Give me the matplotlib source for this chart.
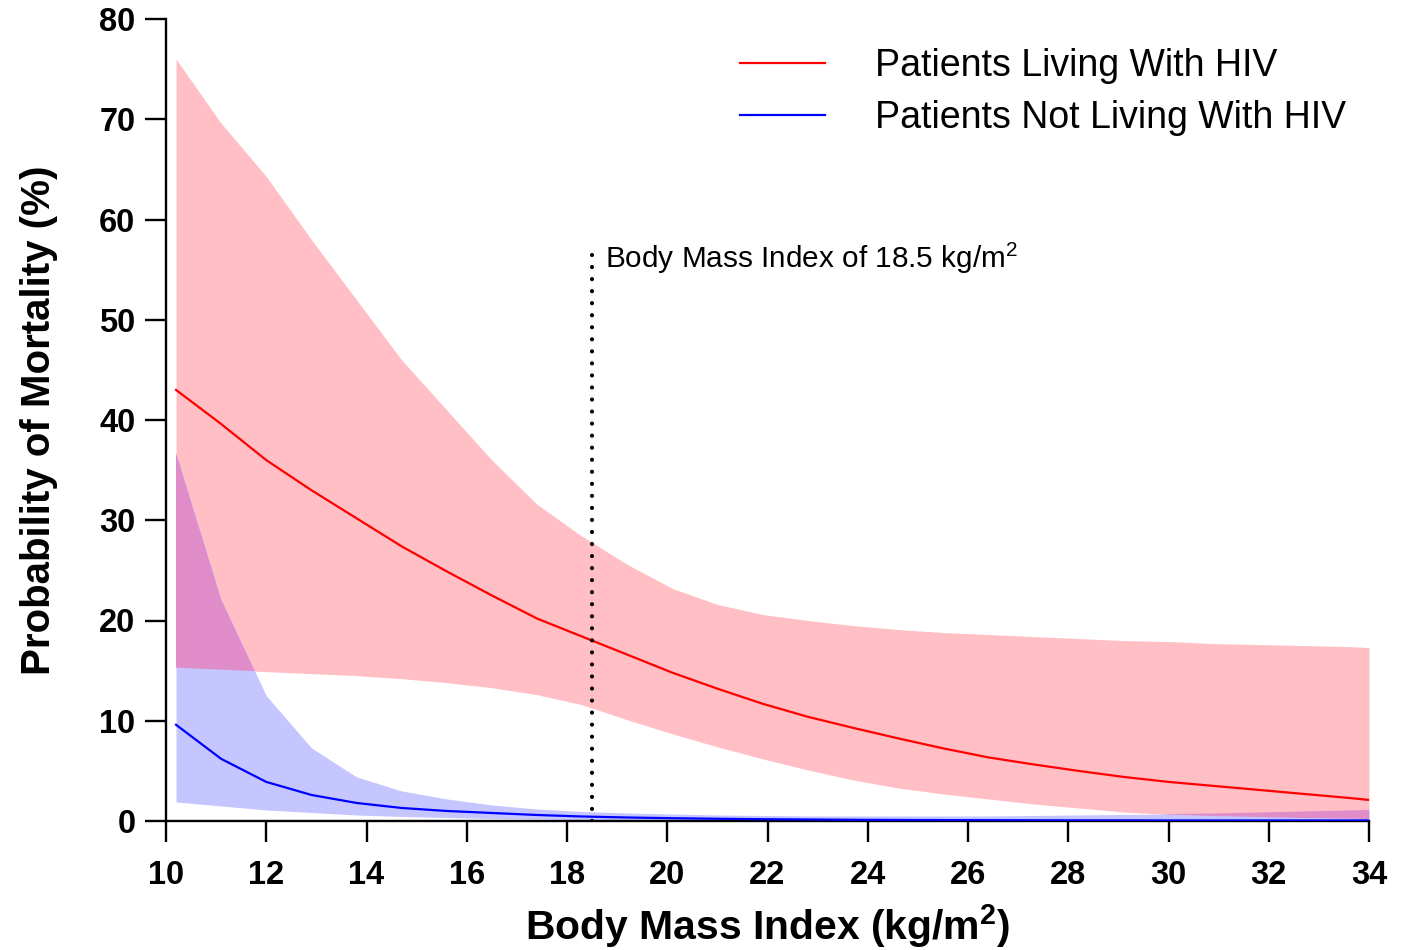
import numpy as np
import matplotlib
matplotlib.use("Agg")
import matplotlib.pyplot as plt

plt.rcParams['font.family'] = ['Liberation Sans', 'DejaVu Sans']
plt.rcParams['mathtext.fontset'] = 'custom'
plt.rcParams['mathtext.rm'] = 'Liberation Sans'
plt.rcParams['mathtext.bf'] = 'Liberation Sans:bold'

# BMI grid used by the model output
bmi = [10.2, 11.1, 12.0, 12.9, 13.8, 14.7, 15.6, 16.5, 17.4, 18.3, 19.2, 20.1, 21.0, 21.9,
       22.8, 23.7, 24.6, 25.5, 26.4, 27.3, 28.2, 29.1, 30.0, 30.9, 31.8, 32.7, 33.6, 34.0]

# Patients living with HIV: estimate and 95% band
hiv_est = [43.0, 39.6, 36.0, 33.0, 30.2, 27.4, 24.9, 22.5, 20.2, 18.4, 16.6, 14.8, 13.2, 11.7,
           10.4, 9.3, 8.25, 7.25, 6.35, 5.65, 5.0, 4.4, 3.9, 3.5, 3.1, 2.7, 2.3, 2.1]
hiv_hi = [76.0, 69.6, 64.3, 58.0, 52.0, 46.0, 41.0, 36.0, 31.6, 28.4, 25.6, 23.2, 21.6, 20.6,
          20.0, 19.5, 19.1, 18.8, 18.6, 18.4, 18.2, 18.0, 17.9, 17.7, 17.6, 17.5, 17.4, 17.3]
hiv_lo = [15.3, 15.1, 14.9, 14.7, 14.5, 14.2, 13.8, 13.3, 12.6, 11.6, 10.1, 8.7, 7.4, 6.2,
          5.1, 4.1, 3.3, 2.7, 2.2, 1.7, 1.3, 0.9, 0.65, 0.5, 0.4, 0.3, 0.25, 0.2]

# Patients not living with HIV: estimate and 95% band
nohiv_est = [9.6, 6.2, 3.9, 2.6, 1.8, 1.3, 1.0, 0.8, 0.6, 0.45, 0.35, 0.28, 0.22, 0.18,
             0.15, 0.12, 0.1, 0.09, 0.08, 0.07, 0.06, 0.06, 0.05, 0.05, 0.05, 0.05, 0.05, 0.05]
nohiv_hi = [36.7, 22.1, 12.5, 7.3, 4.4, 3.0, 2.2, 1.6, 1.2, 0.95, 0.8, 0.7, 0.6, 0.55,
            0.5, 0.5, 0.5, 0.5, 0.5, 0.55, 0.6, 0.65, 0.7, 0.75, 0.85, 0.95, 1.05, 1.1]
nohiv_lo = [1.9, 1.5, 1.1, 0.85, 0.6, 0.45, 0.35, 0.25, 0.2, 0.15, 0.1, 0.08, 0.06, 0.05,
            0.05, 0.04, 0.04, 0.03, 0.03, 0.03, 0.03, 0.02, 0.02, 0.02, 0.02, 0.02, 0.02, 0.02]

bmi_cutoff = 18.5

x = np.array(bmi)
fig = plt.figure(figsize=(14.14, 9.5), dpi=100)
ax = fig.add_axes([166 / 1414, 129 / 950, 1203 / 1414, 802 / 950])

# bands drawn as solid colours, overlap in purple
ax.fill_between(x, hiv_lo, hiv_hi, color='#FFBFC5', lw=0, zorder=1)
ax.fill_between(x, nohiv_lo, nohiv_hi, color='#C5C5FF', lw=0, zorder=1)
ov_lo = np.maximum(hiv_lo, nohiv_lo)
ov_hi = np.minimum(hiv_hi, nohiv_hi)
ax.fill_between(x, ov_lo, ov_hi, where=ov_hi > ov_lo, interpolate=True,
                color='#E08CC8', lw=0, zorder=2)

ax.plot(x, hiv_est, color='#FF0000', lw=1.6, zorder=3, label='Patients Living With HIV')
ax.plot(x, nohiv_est, color='#0000FF', lw=1.6, zorder=3, label='Patients Not Living With HIV')

# cutoff line and note
ax.plot([bmi_cutoff, bmi_cutoff], [0, 56.7], color='black', lw=3,
        linestyle=(0, (0.01, 2.88)), dash_capstyle='round', zorder=4)
ax.text(18.76, 55.2, r'Body Mass Index of 18.5 kg/m$^2$', fontsize=21.4, va='baseline', ha='left')

ax.set_xlim(10, 34)
ax.set_ylim(0, 80)
ax.set_xticks(range(10, 35, 2))
ax.set_yticks(range(0, 81, 10))
for s in ['top', 'right']:
    ax.spines[s].set_visible(False)
for s in ['left', 'bottom']:
    ax.spines[s].set_linewidth(1.7)
ax.tick_params(axis='both', direction='out', length=15, width=1.7, labelsize=23.5)
ax.tick_params(axis='y', pad=7)
ax.tick_params(axis='x', pad=13)
for lab in ax.get_xticklabels() + ax.get_yticklabels():
    lab.set_fontweight('bold')

ax.set_xlabel(r'Body Mass Index (kg/m$^\mathbf{2}$)', fontsize=29.4, fontweight='bold', labelpad=8)
ax.set_ylabel('Probability of Mortality (%)', fontsize=29, fontweight='bold', labelpad=30)

ax.legend(loc='upper left', bbox_to_anchor=(740 / 1414, (950 - 48) / 950),
          bbox_transform=fig.transFigure, frameon=False, fontsize=27,
          handlelength=2.27, handletextpad=1.33, labelspacing=0.43,
          borderpad=0, borderaxespad=0)

fig.savefig('out.png', dpi=100)
